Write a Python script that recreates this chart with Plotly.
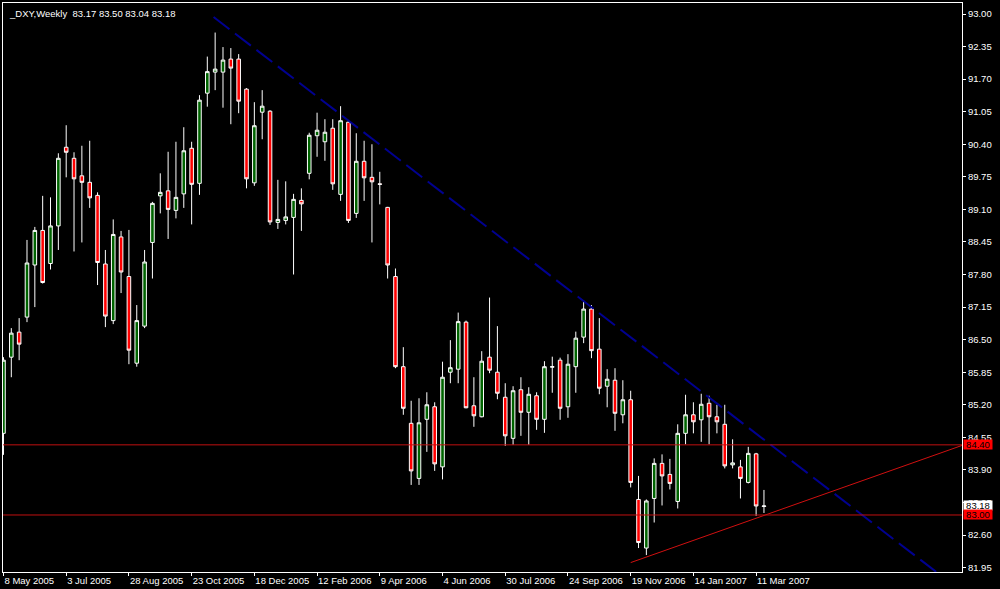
import plotly.graph_objects as go

# ---------------- data ----------------
tick_labels = ["8 May 2005", "3 Jul 2005", "28 Aug 2005", "23 Oct 2005", "18 Dec 2005",
               "12 Feb 2006", "9 Apr 2006", "4 Jun 2006", "30 Jul 2006", "24 Sep 2006",
               "19 Nov 2006", "14 Jan 2007", "11 Mar 2007"]
tick_bars = [0, 8, 16, 24, 32, 40, 48, 56, 64, 72, 80, 88, 96]

price_ticks = [93.00, 92.35, 91.70, 91.05, 90.40, 89.75, 89.10, 88.45, 87.80, 87.15,
               86.50, 85.85, 85.20, 84.55, 83.90, 83.25, 82.60, 81.95]

opens = [84.63, 86.15, 86.65, 86.95, 87.99, 88.68, 88.02, 88.77, 90.34, 90.12,
         89.77, 89.64, 89.38, 88.01, 86.88, 88.55, 87.76, 86.03, 86.77, 88.44,
         89.37, 89.47, 89.08, 89.41, 90.32, 89.62, 91.42, 91.84, 91.84, 92.10,
         92.10, 91.50, 89.63, 91.04, 91.06, 88.84, 88.88, 88.94, 89.28, 89.82,
         90.57, 90.45, 90.72, 89.40, 90.84, 89.02, 90.06, 89.74, 89.61, 89.14,
         87.76, 85.96, 84.83, 83.73, 84.91, 85.16, 83.96, 85.85, 85.91, 86.85,
         85.18, 84.96, 86.15, 85.85, 85.35, 84.53, 85.50, 85.05, 85.38, 84.91,
         85.95, 86.09, 85.16, 85.96, 86.55, 87.11, 86.31, 85.57, 85.69, 85.00,
         85.30, 83.31, 82.34, 83.33, 84.03, 83.81, 83.27, 84.63, 85.00, 84.90,
         85.23, 84.96, 84.81, 84.00, 83.96, 83.65, 84.22, 83.17]
highs = [86.15, 86.73, 86.93, 88.49, 88.75, 89.37, 89.34, 90.22, 90.78, 90.24,
         90.37, 90.47, 89.44, 88.29, 88.90, 88.67, 88.69, 87.19, 88.29, 89.25,
         89.82, 90.25, 90.45, 90.74, 90.45, 91.38, 92.15, 92.63, 92.34, 92.32,
         92.20, 91.52, 91.24, 91.48, 91.08, 89.69, 89.66, 89.41, 89.52, 90.63,
         91.03, 90.90, 90.90, 91.16, 90.88, 90.62, 90.47, 90.40, 89.85, 89.15,
         87.92, 86.35, 85.28, 85.33, 85.45, 85.25, 86.06, 86.49, 87.04, 86.88,
         85.75, 86.27, 87.34, 86.77, 85.63, 85.57, 85.75, 85.55, 85.45, 86.07,
         86.16, 86.14, 86.21, 86.66, 87.28, 87.19, 86.93, 85.91, 85.93, 85.69,
         85.48, 83.78, 83.31, 84.13, 84.21, 84.12, 84.81, 85.40, 85.25, 85.42,
         85.38, 85.20, 85.20, 84.51, 84.10, 84.36, 84.24, 83.50]
lows = [84.20, 85.75, 86.09, 86.85, 87.15, 87.62, 87.90, 88.29, 89.74, 88.26,
        88.44, 89.13, 87.59, 86.75, 86.81, 87.43, 86.01, 85.96, 86.73, 87.72,
        89.02, 88.51, 88.92, 89.13, 88.80, 89.39, 91.15, 91.48, 91.13, 90.80,
        91.02, 89.52, 89.57, 90.50, 88.79, 88.71, 88.80, 87.80, 88.67, 89.70,
        90.15, 90.07, 89.49, 89.27, 88.83, 88.93, 89.27, 88.44, 89.20, 87.72,
        85.93, 85.00, 83.60, 83.60, 84.26, 83.88, 83.71, 85.63, 85.63, 85.13,
        84.76, 84.95, 85.83, 85.31, 84.38, 84.40, 84.58, 84.40, 84.70, 84.64,
        85.44, 84.90, 84.94, 85.44, 86.43, 86.13, 85.41, 85.15, 84.68, 84.83,
        83.55, 82.34, 82.20, 82.85, 83.19, 83.51, 83.13, 84.41, 84.63, 84.46,
        84.41, 84.63, 83.93, 83.93, 83.33, 83.63, 82.98, 83.04]
closes = [86.09, 86.63, 86.41, 88.03, 88.68, 87.64, 88.77, 90.12, 90.24, 89.71,
          89.64, 89.33, 88.04, 86.97, 88.60, 87.85, 86.29, 86.88, 88.05, 89.22,
          89.44, 89.10, 89.34, 90.27, 89.60, 91.28, 91.85, 91.90, 92.08, 91.92,
          91.26, 89.71, 90.77, 91.16, 88.85, 88.90, 88.95, 89.30, 89.21, 90.58,
          90.68, 90.64, 89.61, 90.87, 88.88, 90.06, 89.73, 89.65, 89.60, 87.99,
          85.96, 85.13, 83.88, 84.84, 85.20, 84.02, 85.75, 85.94, 86.86, 85.14,
          84.98, 86.07, 85.89, 85.43, 84.58, 85.48, 85.05, 85.41, 84.91, 85.96,
          85.96, 85.13, 86.01, 86.53, 87.11, 86.28, 85.53, 85.71, 85.03, 85.30,
          83.65, 82.45, 83.28, 84.03, 83.78, 83.63, 84.63, 85.00, 84.86, 85.21,
          84.96, 84.86, 83.98, 84.04, 83.73, 84.23, 83.18, 83.18]

# horizontal price levels and trend lines (bar index, price)
levels = [84.40, 83.00]
down_trend_bars = [26.8, 125.0]
down_trend_prices = [92.94, 81.14]
up_trend_bars = [80.0, 125.0]
up_trend_prices = [82.05, 84.54]
bid_price = 83.18
title_text = "_DXY,Weekly  83.17 83.50 83.04 83.18"

bars = list(range(len(opens)))

FONT = "Liberation Sans, Arial, sans-serif"
FS = 9.5
fig = go.Figure()

fig.add_trace(go.Candlestick(
    x=bars, open=opens, high=highs, low=lows, close=closes,
    increasing=dict(line=dict(color="#ffffff", width=1), fillcolor="#006400"),
    decreasing=dict(line=dict(color="#ffffff", width=1), fillcolor="#ff0000"),
    whiskerwidth=0, showlegend=False, hoverinfo="skip"))

fig.add_trace(go.Scatter(
    x=down_trend_bars, y=down_trend_prices, mode="lines",
    line=dict(color="#000090", width=2, dash="20px,7px"),
    showlegend=False, hoverinfo="skip"))

fig.add_trace(go.Scatter(
    x=up_trend_bars, y=up_trend_prices, mode="lines",
    line=dict(color="#d01010", width=1),
    showlegend=False, hoverinfo="skip"))

for lv in levels:
    fig.add_shape(type="line", xref="paper", x0=0, x1=1, yref="y", y0=lv, y1=lv,
                  line=dict(color="#c01010", width=1), layer="above")

annotations = [dict(xref="paper", x=0, xanchor="left", xshift=4,
                    yref="paper", y=1, yanchor="top", yshift=-3,
                    text=title_text, showarrow=False,
                    font=dict(family=FONT, size=FS, color="#ffffff"))]
label_specs = [(levels[0], "#ff0000", "#000000"),
               (bid_price, "#ffffff", "#000000"),
               (levels[1], "#ff0000", "#000000")]
for val, bg, fg in label_specs:
    annotations.append(dict(xref="paper", x=1, xanchor="left", xshift=1,
                            yref="y", y=val, yanchor="middle",
                            text=f"{val:.2f}", showarrow=False, bgcolor=bg,
                            width=28, height=9, borderpad=0,
                            font=dict(family=FONT, size=FS, color=fg)))

fig.update_layout(
    width=1000, height=589,
    margin=dict(l=3, r=38, t=3, b=17, autoexpand=False),
    paper_bgcolor="#000000", plot_bgcolor="#000000",
    boxgap=0.35,
    annotations=annotations,
    xaxis=dict(range=[-0.06, 122.26], showgrid=False, zeroline=False,
               rangeslider=dict(visible=False), automargin=False,
               tickmode="array", tickvals=tick_bars, ticktext=tick_labels,
               tickangle=0,
               ticks="outside", ticklen=3, tickcolor="#ffffff",
               ticklabelposition="outside right",
               tickfont=dict(family=FONT, size=FS, color="#ffffff"),
               showline=True, linecolor="#ffffff", linewidth=1, mirror=True),
    yaxis=dict(range=[81.862, 93.2196], side="right", showgrid=False, zeroline=False,
               automargin=False,
               tickmode="array", tickvals=price_ticks, tickformat=".2f",
               ticks="outside", ticklen=3, tickcolor="#ffffff",
               tickfont=dict(family=FONT, size=FS, color="#ffffff"),
               showline=True, linecolor="#ffffff", linewidth=1, mirror=True),
)

fig.write_html("out.html",
               config={"displayModeBar": False},
               post_script="document.body.style.margin='0';"
                           "document.body.style.overflow='hidden';")
